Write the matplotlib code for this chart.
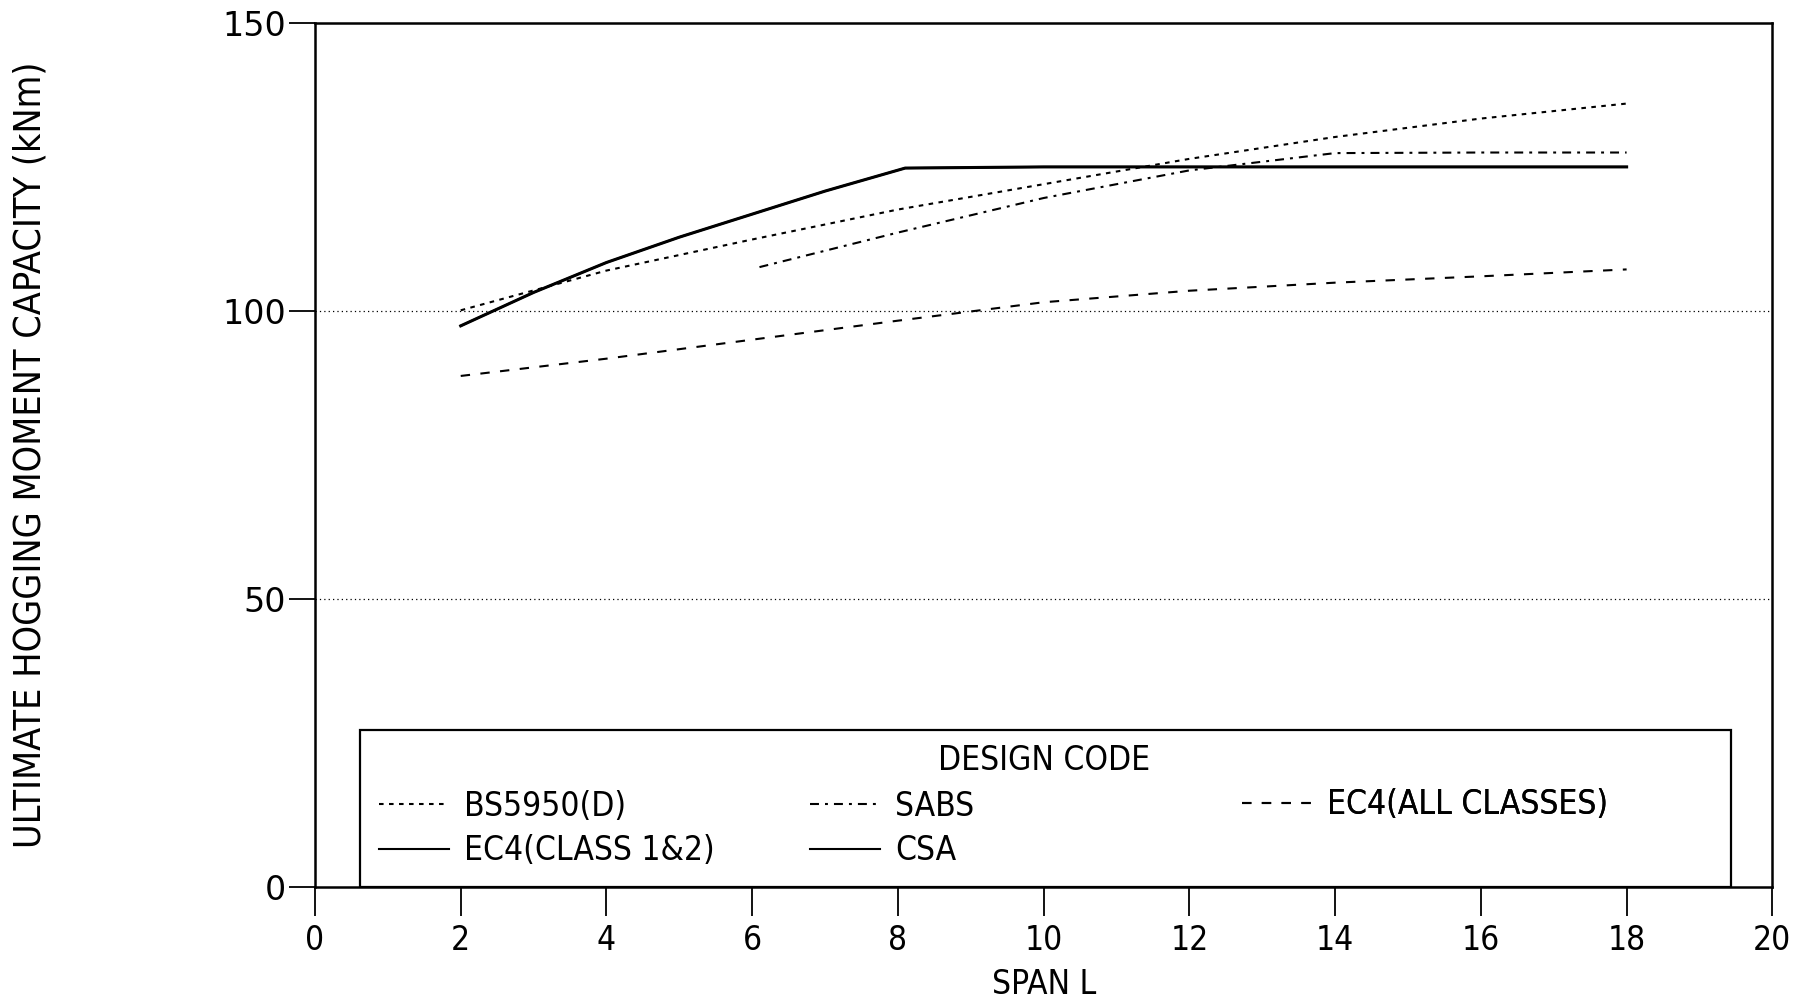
import matplotlib
matplotlib.use('Agg')
import matplotlib.pyplot as plt
from matplotlib.patches import Rectangle
from matplotlib.lines import Line2D

# span L
x_bs = [2, 4, 6, 8, 10, 12, 14, 16, 18]
y_bs = [100.1, 107.0, 112.4, 117.6, 122.0, 126.4, 130.2, 133.4, 136.0]

x_sabs = [6.1, 8, 10, 12, 14, 16, 18]
y_sabs = [107.6, 113.6, 119.6, 124.4, 127.4, 127.5, 127.5]

x_ec4all = [2, 4, 6, 8, 10, 12, 14, 16, 18]
y_ec4all = [88.7, 91.7, 95.0, 98.3, 101.5, 103.5, 104.9, 106.0, 107.2]

x_ec4cl = [2, 3, 4, 5, 6, 7, 8.1, 10, 12, 14, 16, 18]
y_ec4cl = [97.4, 103.2, 108.4, 112.8, 116.8, 120.8, 124.8, 125.0, 125.0, 125.0, 125.0, 125.0]

x_csa = x_ec4cl
y_csa = y_ec4cl

xticks = [0, 2, 4, 6, 8, 10, 12, 14, 16, 18, 20]
yticks = [0, 50, 100, 150]

COND = dict(family='DejaVu Sans', stretch='condensed')

fig = plt.figure(figsize=(18.03, 9.98), dpi=100)
ax = fig.add_axes([0.1747, 0.1115, 0.8083, 0.8655])

ls_dot = (0, (2.2, 2.6))
ls_dashdot = (0, (4.3, 2.9, 1.4, 2.9))
ls_dash = (0, (4.5, 5))

ax.plot(x_bs, y_bs, color='black', lw=1.5, ls=ls_dot)
ax.plot(x_sabs, y_sabs, color='black', lw=1.5, ls=ls_dashdot)
ax.plot(x_ec4all, y_ec4all, color='black', lw=1.5, ls=ls_dash)
ax.plot(x_ec4cl, y_ec4cl, color='black', lw=2.2, ls='-')
ax.plot(x_csa, y_csa, color='black', lw=1.5, ls='-')

ax.set_xlim(0, 20)
ax.set_ylim(0, 150)
ax.set_xticks(xticks)
ax.set_yticks(yticks)
ax.set_xticklabels([str(t) for t in xticks], fontsize=24, **COND)
ax.set_yticklabels([str(t) for t in yticks], fontsize=24, family='DejaVu Sans')
ax.tick_params(axis='x', direction='out', length=21, width=1.3, pad=6)
ax.tick_params(axis='y', direction='out', length=19, width=1.3, pad=2)
for sp in ax.spines.values():
    sp.set_linewidth(1.8)

# dotted guide lines
for yv in [50, 100]:
    ax.axhline(yv, color='black', lw=0.9, ls=(0, (1, 2.5)), zorder=0)

ax.set_xlabel('SPAN L', fontsize=24, labelpad=8, **COND)
ax.set_ylabel('ULTIMATE HOGGING MOMENT CAPACITY (kNm)', fontsize=27, **COND)
ax.yaxis.set_label_coords(-0.183, 0.5)

# legend box
ax.add_patch(Rectangle((0.62, 0), 18.81, 27.2, fill=False, ec='black', lw=1.6, zorder=3))
ax.text(10, 22.0, 'DESIGN CODE', ha='center', va='center', fontsize=24, **COND)

def h(ls, lw=1.5):
    return Line2D([], [], color='black', lw=lw, ls=ls)

cols = [
    ([h(ls_dot), h('-')], ['BS5950(D)', 'EC4(CLASS 1&2)'], 0.044, 0.0673),
    ([h(ls_dashdot), h('-')], ['SABS', 'CSA'], 0.340, 0.0673),
    ([h(ls_dash)], ['EC4(ALL CLASSES)'], 0.636, 0.0947),
]
for handles, labels, xa, ya in cols:
    lg = ax.legend(handles, labels, loc='center left', bbox_to_anchor=(xa, ya),
                   frameon=False, borderpad=0, borderaxespad=0, handlelength=2.1,
                   handletextpad=0.45, labelspacing=0.35,
                   prop=dict(size=24, **COND))
    ax.add_artist(lg)

fig.savefig('out.png', dpi=100)
